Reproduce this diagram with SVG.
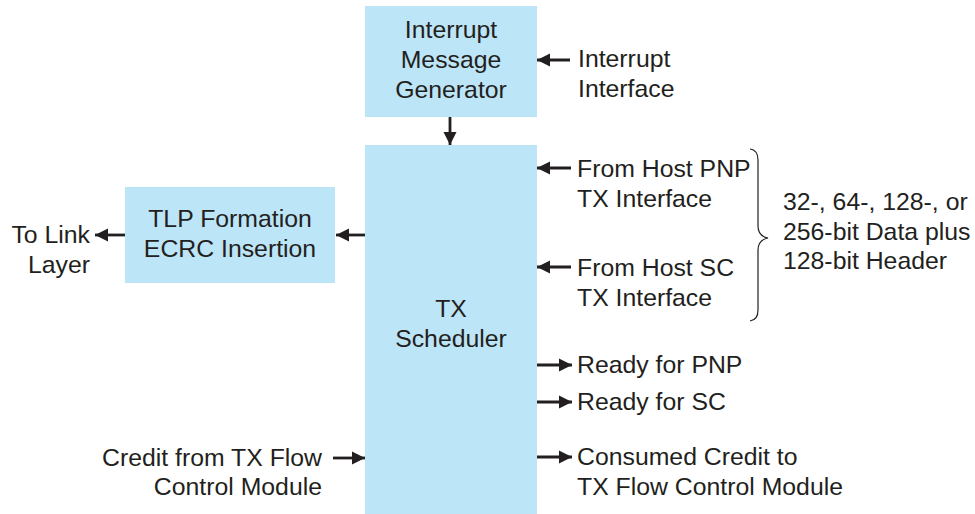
<svg xmlns="http://www.w3.org/2000/svg" width="975" height="514" viewBox="0 0 975 514">
<defs>
<style>
.box{fill:#bde5f8;}
.t{font-family:"Liberation Sans",Arial,sans-serif;font-size:24.8px;fill:#231f20;}
.c{text-anchor:middle;}
.e{text-anchor:end;}
.w{stroke:#231f20;stroke-width:2.8;fill:none;}
.br{stroke:#231f20;stroke-width:1.2;fill:none;}
</style>
<marker id="ah" viewBox="0 0 10 10" refX="10" refY="5" markerWidth="4.8" markerHeight="5.2" markerUnits="strokeWidth" orient="auto">
<path d="M0,0 L10,5 L0,10 Z" fill="#231f20"/>
</marker>
</defs>
<rect width="975" height="514" fill="#ffffff"/>
<g id="img">
<rect class="box" x="365" y="6" width="172" height="111"/>
<text class="t c" x="451" y="38">Interrupt</text>
<text class="t c" x="451" y="68">Message</text>
<text class="t c" x="451" y="98">Generator</text>
</g>
<g id="sched">
<rect class="box" x="365" y="145" width="172" height="369"/>
<text class="t c" x="451" y="317">TX</text>
<text class="t c" x="451" y="347">Scheduler</text>
</g>
<g id="tlp">
<rect class="box" x="125" y="187" width="210" height="96"/>
<text class="t c" x="230" y="227">TLP Formation</text>
<text class="t c" x="230" y="257">ECRC Insertion</text>
</g>
<g id="labels">
<text class="t" x="578" y="67">Interrupt</text>
<text class="t" x="578" y="97">Interface</text>
<text class="t e" x="90" y="243">To Link</text>
<text class="t e" x="90" y="273">Layer</text>
<text class="t" x="577" y="177">From Host PNP</text>
<text class="t" x="577" y="207">TX Interface</text>
<text class="t" x="577" y="276">From Host SC</text>
<text class="t" x="577" y="306">TX Interface</text>
<text class="t" x="783" y="210">32-, 64-, 128-, or</text>
<text class="t" x="783" y="240">256-bit Data plus</text>
<text class="t" x="783" y="269">128-bit Header</text>
<text class="t" x="577" y="373">Ready for PNP</text>
<text class="t" x="577" y="410">Ready for SC</text>
<text class="t" x="577" y="465">Consumed Credit to</text>
<text class="t" x="577" y="495">TX Flow Control Module</text>
<text class="t e" x="322" y="466">Credit from TX Flow</text>
<text class="t e" x="322" y="495">Control Module</text>
</g>
<g id="connectors">
<line class="w" x1="450" y1="117" x2="450" y2="145" marker-end="url(#ah)"/>
<line class="w" x1="570" y1="60" x2="537" y2="60" marker-end="url(#ah)"/>
<line class="w" x1="365" y1="235" x2="336" y2="235" marker-end="url(#ah)"/>
<line class="w" x1="125" y1="235" x2="95" y2="235" marker-end="url(#ah)"/>
<line class="w" x1="571" y1="168" x2="537" y2="168" marker-end="url(#ah)"/>
<line class="w" x1="571" y1="267" x2="537" y2="267" marker-end="url(#ah)"/>
<line class="w" x1="537" y1="365" x2="572" y2="365" marker-end="url(#ah)"/>
<line class="w" x1="537" y1="402" x2="572" y2="402" marker-end="url(#ah)"/>
<line class="w" x1="537" y1="457" x2="572" y2="457" marker-end="url(#ah)"/>
<line class="w" x1="333" y1="458" x2="365" y2="458" marker-end="url(#ah)"/>
<path class="br" d="M750,149 Q758,150 758,160 L758,226 Q758,236 768,238 Q758,240 758,250 L758,310 Q758,320 750,321"/>
</g>
</svg>
